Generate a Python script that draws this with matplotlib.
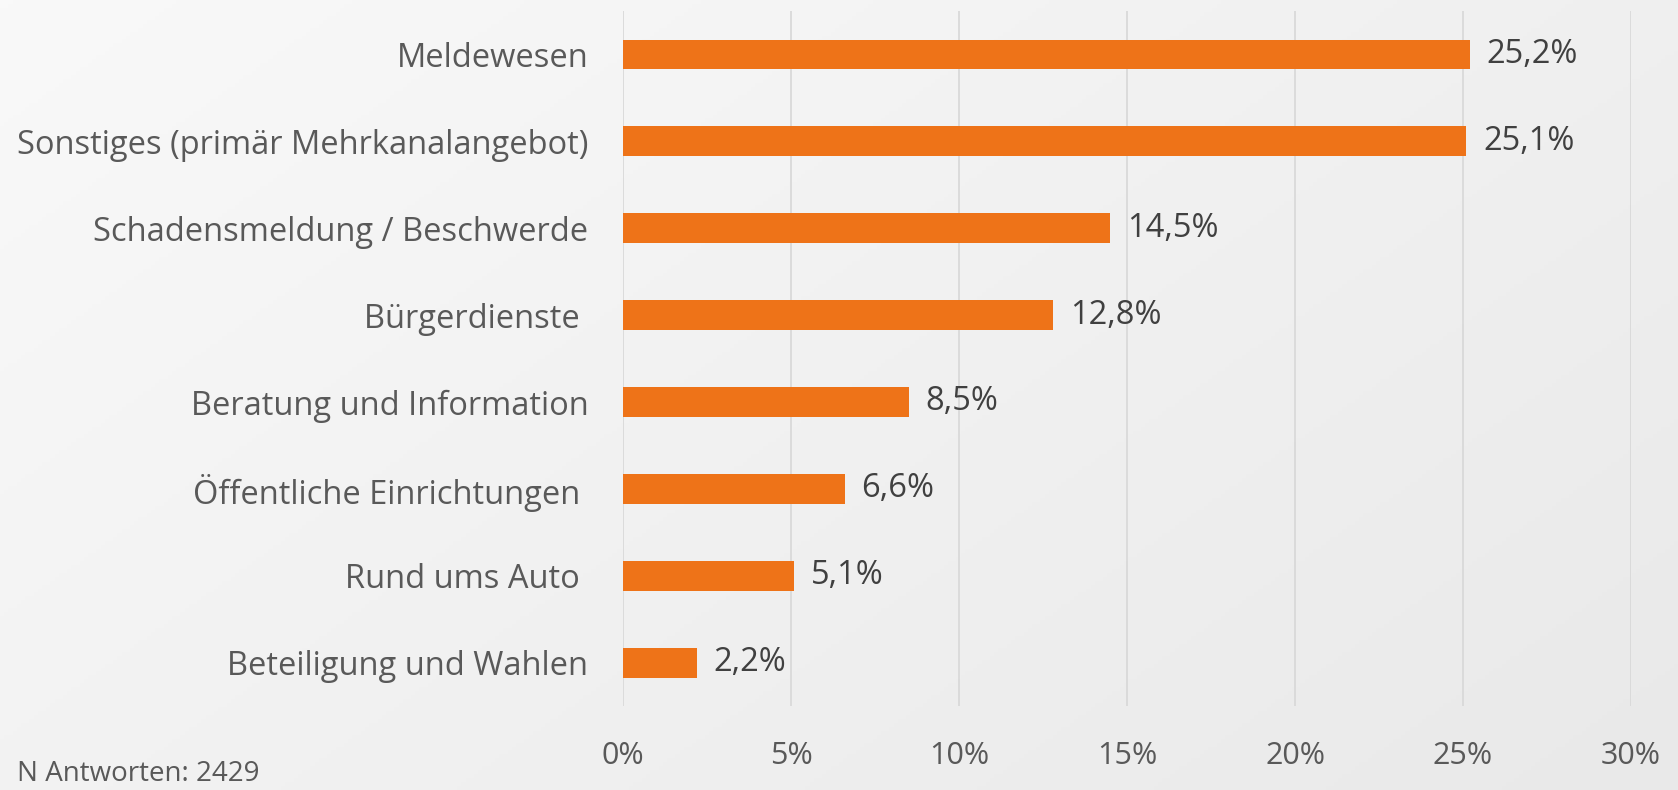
import numpy as np
import matplotlib
matplotlib.use("Agg")
import matplotlib.pyplot as plt
from matplotlib.ticker import FuncFormatter

categories = ["Meldewesen", "Sonstiges (primär Mehrkanalangebot)", "Schadensmeldung / Beschwerde",
              "Bürgerdienste ", "Beratung und Information", "Öffentliche Einrichtungen ",
              "Rund ums Auto ", "Beteiligung und Wahlen"]
values = [25.2, 25.1, 14.5, 12.8, 8.5, 6.6, 5.1, 2.2]
xticks = [0, 5, 10, 15, 20, 25, 30]
note = "N Antworten: 2429"

plt.rcParams['font.family'] = ['Open Sans', 'DejaVu Sans']

fig = plt.figure(figsize=(16.78, 7.9), dpi=100)

# background gradient, light top-left to slightly darker bottom-right
bg = fig.add_axes([0, 0, 1, 1], zorder=-10)
yy, xx = np.mgrid[0:1:200j, 0:1:400j]
grad = 0.6 * xx + 0.4 * yy
bg.imshow(grad, cmap=matplotlib.colors.LinearSegmentedColormap.from_list("g", ["#f9f9f9", "#e9e9e9"]),
          aspect="auto", extent=[0, 1, 0, 1], origin="upper")
bg.axis("off")

ax = fig.add_axes([0.3713, 0.1063, 0.6007, 0.8797])
ax.patch.set_alpha(0)
y = np.arange(len(categories))
ax.barh(y, values, height=0.345, color="#ee7318", zorder=3)
for yi, v in zip(y, values):
    ax.text(v + 0.5, yi, f"{v:.1f}%".replace(".", ","), va="center", ha="left",
            fontsize=23.5, color="#404040")

ax.set_ylim(len(categories) - 0.5, -0.5)
ax.set_xlim(0, 30)
ax.set_xticks(xticks)
ax.xaxis.set_major_formatter(FuncFormatter(lambda v, p: f"{v:.0f}%"))
ax.set_yticks(y)
ax.set_yticklabels(categories)
ax.grid(axis="x", color="#d9d9d9", linewidth=1.3, zorder=0)
for s in ax.spines.values():
    s.set_visible(False)
ax.tick_params(axis="y", length=0, pad=25, labelsize=23.5, labelcolor="#595959")
ax.tick_params(axis="x", length=0, pad=25, labelsize=22, labelcolor="#595959")

fig.text(0.0101, 0.012, note, fontsize=20, color="#595959", ha="left", va="baseline")

fig.savefig("out.png", dpi=100)
